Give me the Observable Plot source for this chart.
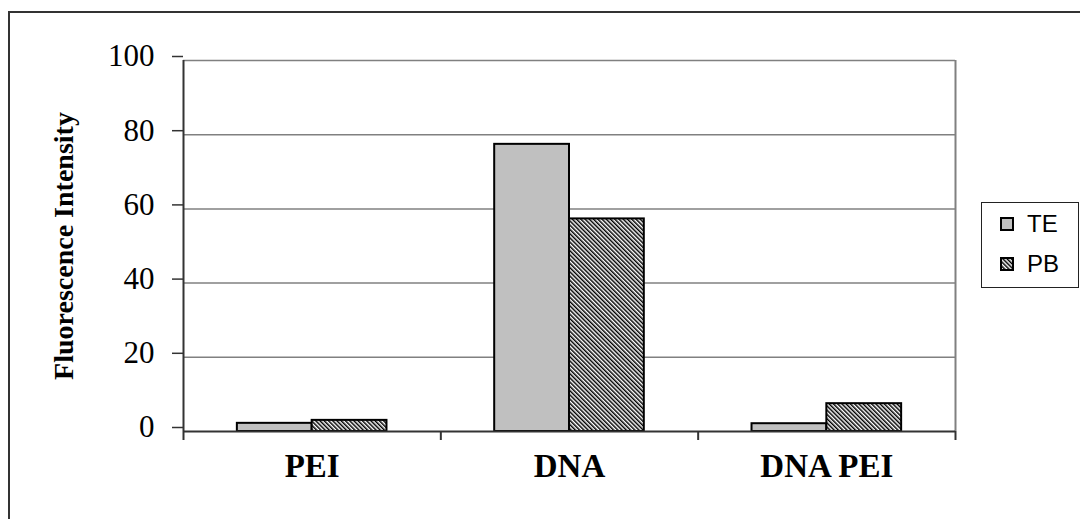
<!DOCTYPE html>
<html>
<head>
<meta charset="utf-8">
<script src="https://cdn.jsdelivr.net/npm/d3@7"></script>
<script src="https://cdn.jsdelivr.net/npm/@observablehq/plot@0.6"></script>
<style>
  html, body { margin: 0; padding: 0; background: #fff; }
  #wrap { position: relative; width: 1080px; height: 519px; overflow: hidden; }
  #outer { position: absolute; left: 8px; top: 11px; width: 1200px; height: 600px;
           border-top: 2px solid #333; border-left: 2px solid #333; pointer-events: none; }
  #legend { position: absolute; left: 981px; top: 202px; width: 96px; height: 84px;
            border: 1px solid #222; background: #fff; font-family: "Liberation Sans", Arial, sans-serif;
            font-size: 24px; color: #000; }
  .item { position: absolute; left: 18px; display: flex; align-items: center; }
  .item svg { margin-right: 13px; }
</style>
</head>
<body>
<div id="wrap">
  <div id="chart"></div>
  <div id="outer"></div>
  <div id="legend"></div>
</div>
<script>
// ---- data ----
const categories = ["PEI", "DNA", "DNA PEI"];
const seriesNames = ["TE", "PB"];
const teValues = [2.2, 77.4, 2.1];
const pbValues = [3.0, 57.3, 7.5];
const yTicks = [0, 20, 40, 60, 80, 100];
const yTitle = "Fluorescence Intensity";

// ---- build table ----
const valuesBySeries = { TE: teValues, PB: pbValues };
const rows = [];
categories.forEach((c, i) => {
  seriesNames.forEach(s => rows.push({ category: c, index: i, series: s, value: valuesBySeries[s][i] }));
});

// inner band layout within each category slot
const inner = d3.scaleBand().domain(seriesNames).range([0, 1]).paddingInner(0).paddingOuter(0.72);
const x1 = d => d.index + inner(d.series);
const x2 = d => d.index + inner(d.series) + inner.bandwidth();

const serif = "'Liberation Serif', 'Times New Roman', serif";

const hatchDefs = () => {
  const defs = d3.create("svg:defs");
  const p = defs.append("pattern")
    .attr("id", "hatch")
    .attr("patternUnits", "userSpaceOnUse")
    .attr("width", 3).attr("height", 3)
    .attr("patternTransform", "rotate(-45)");
  p.append("rect").attr("width", 3).attr("height", 3).attr("fill", "#fff");
  p.append("line").attr("x1", 0.75).attr("y1", 0).attr("x2", 0.75).attr("y2", 3)
    .attr("stroke", "#000").attr("stroke-width", 1.5);
  return defs.node();
};

const chart = Plot.plot({
  width: 1080,
  height: 519,
  marginLeft: 183,
  marginRight: 125,
  marginTop: 60,
  marginBottom: 88,
  x: { type: "linear", domain: [0, categories.length] },
  y: { domain: [0, 100] },
  marks: [
    hatchDefs,
    Plot.gridY(yTicks.filter(t => t > 0), { stroke: "#808080", strokeOpacity: 1, strokeWidth: 1.5 }),
    Plot.ruleX([categories.length], { stroke: "#808080", strokeWidth: 2 }),
    Plot.rectY(rows.filter(d => d.series === "TE"), { x1, x2, y: "value", fill: "#c0c0c0", stroke: "#000", strokeWidth: 2 }),
    Plot.rectY(rows.filter(d => d.series === "PB"), { x1, x2, y: "value", fill: "url(#hatch)", stroke: "#000", strokeWidth: 2 }),
    Plot.ruleX([0], { stroke: "#333", strokeWidth: 2 }),
    Plot.ruleY([0], { stroke: "#333", strokeWidth: 2 }),
    Plot.axisX(d3.range(0, categories.length + 1), { tickSize: 9, tickFormat: () => "", stroke: "#333", strokeWidth: 2, label: null }),
    Plot.axisY(yTicks, { tickSize: 11, tickPadding: 18, fontSize: 31, fontFamily: serif, stroke: "#333", strokeWidth: 1.5, fill: "#000", dy: -4, label: null }),
    Plot.text(categories, { x: (d, i) => i + 0.5, frameAnchor: "bottom", dy: 45, fontSize: 33, fontWeight: "bold", fontFamily: serif, fill: "#000" }),
    Plot.text([yTitle], { frameAnchor: "left", textAnchor: "middle", dx: -119, rotate: -90, fontSize: 28, fontWeight: "bold", fontFamily: serif, fill: "#000" })
  ]
});
document.getElementById("chart").appendChild(chart);

// ---- legend ----
const legend = document.getElementById("legend");
seriesNames.forEach((s, k) => {
  const item = document.createElement("div");
  item.className = "item";
  item.style.top = (k === 0 ? 7 : 47) + "px";
  const fill = s === "TE" ? "#c0c0c0" : "url(#hatchL)";
  item.innerHTML = `<svg width="14" height="14">
      <defs><pattern id="hatchL" patternUnits="userSpaceOnUse" width="3" height="3" patternTransform="rotate(-45)">
        <rect width="3" height="3" fill="#fff"></rect>
        <line x1="0.75" y1="0" x2="0.75" y2="3" stroke="#000" stroke-width="1.5"></line></pattern></defs>
      <rect x="1" y="1" width="12" height="12" fill="${fill}" stroke="#000" stroke-width="2"></rect></svg>
      <span>${s}</span>`;
  legend.appendChild(item);
});
</script>
</body>
</html>
